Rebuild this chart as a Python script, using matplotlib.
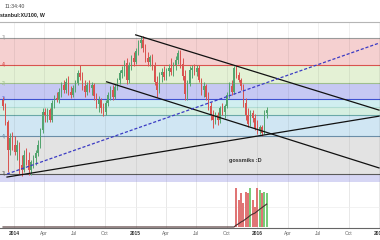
import datetime as dt

import matplotlib
matplotlib.use("Agg")
import matplotlib.pyplot as plt
import matplotlib.dates as mdates
import matplotlib.transforms as mtransforms
import pandas as pd

# weekly XU100 candles, price in thousands of points
FIRST_OPEN = 77.0
highs = [77.7, 76.3, 72.4, 69.4, 69.7, 68.7, 67.8, 67.4, 64.4, 65.5,
         66.0, 65.1, 63.2, 64.4, 65.5, 67.8, 70.6, 75.2, 75.2, 75.2,
         75.2, 77.0, 78.2, 78.9, 79.8, 81.2, 81.6, 82.1, 82.5, 80.2,
         80.5, 81.6, 83.9, 85.1, 83.5, 81.6, 81.2, 81.6, 81.2, 80.9,
         78.6, 77.9, 77.5, 76.3, 77.0, 78.9, 80.2, 80.5, 80.7, 82.1,
         83.9, 84.8, 86.2, 86.7, 85.8, 87.4, 88.1, 89.0, 90.8, 91.7,
         91.7, 89.9, 88.1, 87.4, 87.6, 85.8, 82.5, 83.5, 84.4, 84.8,
         84.4, 85.3, 86.7, 85.8, 87.1, 88.5, 88.5, 86.7, 83.9, 81.6,
         84.8, 85.1, 85.3, 85.1, 85.1, 82.1, 81.2, 80.7, 78.9, 76.6,
         74.7, 74.3, 74.3, 75.6, 76.3, 76.1, 78.9, 81.2, 81.6, 84.8,
         85.1, 83.5, 82.1, 80.7, 77.5, 75.2, 74.7, 74.7, 73.8, 72.4,
         71.3, 71.3, 74.7, 75.4]
lows = [74.7, 71.3, 60.5, 64.4, 65.5, 64.4, 63.2, 60.0, 59.5, 60.5,
        62.1, 59.8, 59.8, 61.4, 62.1, 64.1, 66.0, 69.4, 72.0, 72.0,
        72.0, 72.0, 75.2, 76.6, 76.3, 77.7, 78.6, 78.6, 78.2, 77.5,
        77.7, 78.9, 80.5, 81.6, 79.3, 77.7, 78.2, 78.9, 78.2, 77.0,
        75.2, 74.3, 74.0, 73.3, 73.6, 75.6, 77.0, 77.0, 77.3, 79.3,
        80.7, 82.1, 82.5, 80.7, 80.9, 83.9, 84.8, 85.3, 87.4, 89.0,
        88.1, 85.8, 84.8, 84.8, 83.9, 80.5, 77.7, 78.6, 81.2, 81.6,
        81.6, 82.5, 82.8, 82.5, 83.9, 85.3, 84.4, 81.6, 77.0, 77.0,
        80.2, 82.1, 82.8, 82.5, 81.2, 78.2, 77.7, 77.0, 74.7, 72.4,
        70.6, 71.5, 71.3, 71.7, 73.6, 72.9, 75.2, 77.5, 78.2, 78.4,
        82.1, 81.2, 79.3, 75.4, 72.4, 70.8, 71.0, 72.0, 70.1, 69.2,
        69.2, 68.7, 69.2, 72.9]
closes = [75.6, 72.0, 65.5, 68.3, 66.7, 65.1, 66.7, 62.1, 60.9, 64.4,
          63.2, 60.9, 62.8, 63.7, 64.8, 66.7, 70.1, 74.3, 73.6, 74.7,
          72.4, 76.3, 77.5, 77.0, 78.9, 80.5, 79.3, 81.2, 78.9, 78.2,
          79.8, 80.9, 83.2, 82.3, 80.2, 78.9, 80.5, 79.8, 80.5, 77.9,
          76.1, 77.0, 75.2, 74.3, 76.3, 78.2, 79.3, 77.7, 80.0, 81.6,
          83.2, 83.9, 85.5, 81.6, 85.1, 86.7, 85.8, 88.3, 90.1, 90.8,
          89.0, 86.7, 85.8, 86.9, 84.8, 81.2, 79.3, 82.8, 83.5, 82.3,
          83.7, 84.4, 83.5, 85.1, 86.2, 87.8, 85.3, 82.5, 78.4, 80.7,
          83.9, 84.4, 83.5, 84.4, 81.6, 79.3, 80.2, 77.7, 75.6, 73.6,
          72.4, 73.6, 72.4, 75.2, 74.3, 75.6, 78.2, 80.2, 78.9, 84.4,
          82.8, 81.6, 80.2, 76.3, 73.6, 71.5, 74.0, 72.9, 70.6, 69.9,
          70.8, 69.4, 74.0, 74.7]
# volume only exists from Nov 2015 on (billions)
volume = [0.0] * 100 + [3.9, 2.7, 3.4, 2.4, 3.5, 3.4, 3.9, 2.7, 2.0, 3.9,
                        3.7, 3.4, 3.5, 3.4]
weeks = pd.date_range("2013-11-29", periods=len(closes), freq="7D")

# fibonacci retracement levels, top to bottom
fib_levels = [91.3, 85.1, 80.9, 77.3, 75.4, 73.6, 68.7, 60.0]
fib_lines = ["#9a9a9a", "#d9534f", "#9fbf8f", "#3f51d0",
             "#b0dcd4", "#6aa8a8", "#6b8ea8", "#5a5a5a"]
fib_fills = ["#f5d0d0", "#e4f1d5", "#c6c8f3", "#d0eef0",
             "#d5efe1", "#d0e6f3", "#e3e3e3", "#d6d6f4"]
fib_labels = ["7)", "4)", "2)", "1)", "", "", "4)", "7)"]

# hand-drawn trendlines: (start date, start price, end date, end price)
trendlines = [
    ("2015-01-01", 92.0, "2016-12-31", 74.7),
    ("2014-10-06", 81.2, "2016-12-31", 61.4),
    ("2013-12-11", 59.3, "2016-12-31", 73.3),
]
dashed_line = ("2013-12-11", 60.0, "2016-12-31", 90.1)

ticks = ["2014-01-01", "2014-04-01", "2014-07-01", "2014-10-01",
         "2015-01-01", "2015-04-01", "2015-07-01", "2015-10-01",
         "2016-01-01", "2016-04-01", "2016-07-01", "2016-10-01",
         "2017-01-01"]
tick_labels = ["2014", "Apr", "Jul", "Oct", "2015", "Apr", "Jul", "Oct",
               "2016", "Apr", "Jul", "Oct", "2017"]

UP = "#53a46f"
DOWN = "#d9534f"

plt.rcParams["font.family"] = ["Liberation Sans", "DejaVu Sans"]

fig = plt.figure(figsize=(3.8, 2.4), dpi=100)
ax = fig.add_axes([0, 1 - 182 / 240, 1, 160 / 240])
axv = fig.add_axes([0, 1 - 228 / 240, 1, 46 / 240], sharex=ax)

x0 = mdates.date2num(dt.date(2013, 11, 20))
x1 = mdates.date2num(dt.date(2017, 1, 3))
ax.set_xlim(x0, x1)
ax.set_ylim(58.16, 94.96)
axv.set_ylim(-0.1, 4.5)

# fib zones
bottom = ax.get_ylim()[0]
for i, lvl in enumerate(fib_levels):
    lo = fib_levels[i + 1] if i + 1 < len(fib_levels) else bottom
    ax.axhspan(lo, lvl, color=fib_fills[i], lw=0, zorder=0.5)
    ax.axhline(lvl, color=fib_lines[i], lw=0.8, zorder=1)
    if fib_labels[i]:
        ax.text(0.004, lvl, fib_labels[i], color=fib_lines[i], fontsize=3.3,
                va="center", ha="left",
                transform=mtransforms.blended_transform_factory(ax.transAxes, ax.transData))

tick_nums = mdates.datestr2num(ticks)
for t in tick_nums:
    ax.axvline(t, color="black", alpha=0.07, lw=0.6, zorder=1.2)
    axv.axvline(t, color="#e4e4e4", lw=0.6, zorder=0)
axv.axhline(2.0, color="#ededed", lw=0.5, zorder=0)

# candles
xs = mdates.date2num(weeks.to_pydatetime())
opens = [FIRST_OPEN] + closes[:-1]
for x, o, h, l, c in zip(xs, opens, highs, lows, closes):
    col = UP if c >= o else DOWN
    ax.vlines(x, l, h, color=col, lw=0.7, zorder=3)
    ax.bar(x, max(abs(c - o), 0.2), bottom=min(o, c), width=5.0,
           color=col, lw=0, zorder=3)

# trendlines
for d1, p1, d2, p2 in trendlines:
    ax.plot(mdates.datestr2num([d1, d2]), [p1, p2], color="#111111", lw=0.9, zorder=4)
d1, p1, d2, p2 = dashed_line
ax.plot(mdates.datestr2num([d1, d2]), [p1, p2], color="#3b3bc4", lw=0.9,
        dashes=(2.5, 1.5), zorder=4)

ax.text(mdates.datestr2num("2015-11-25"), 63.2, "gossmiks :D", fontsize=4,
        fontweight="bold", color="#333333", ha="center", va="center", zorder=5)

# volume pane
vol_cols = ["#78cc78" if c >= o else "#e07575" for o, c in zip(opens, closes)]
axv.bar(xs, volume, width=7.0, color=vol_cols, lw=0, zorder=2)
vol_ma = pd.Series(volume).rolling(20, min_periods=1).mean()
axv.plot(xs, vol_ma, color="#4a3030", lw=0.8, zorder=3)

for a in (ax, axv):
    for s in a.spines.values():
        s.set_visible(False)
    a.set_yticks([])
    a.tick_params(length=0)
ax.spines["top"].set_visible(True)
ax.spines["top"].set_color("#b5b5b5")
ax.spines["top"].set_linewidth(0.8)
axv.spines["bottom"].set_visible(True)
axv.spines["bottom"].set_color("#666666")
axv.spines["bottom"].set_linewidth(0.8)
ax.tick_params(labelbottom=False)

axv.set_xticks(tick_nums)
axv.set_xticklabels(tick_labels, fontsize=3.5, color="#666666")
axv.tick_params(axis="x", pad=2.5)
for lab in axv.get_xticklabels():
    if lab.get_text().isdigit():
        lab.set_fontweight("bold")
        lab.set_color("#333333")

fig.text(5 / 380, 1 - 7 / 240, "11:34:40", fontsize=3.8, color="#444444",
         va="center", ha="left")
fig.text(0, 1 - 15 / 240, "stanbul:XU100, W", fontsize=3.8, fontweight="bold",
         color="#222222", va="center", ha="left")

fig.savefig("out.png", dpi=100, facecolor="white")
